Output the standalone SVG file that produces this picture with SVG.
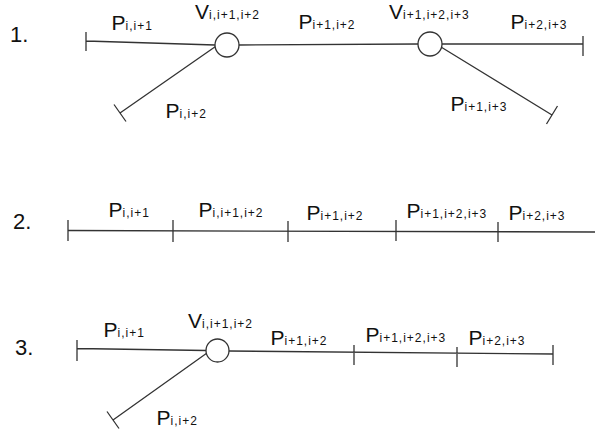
<svg xmlns="http://www.w3.org/2000/svg" width="595" height="438" viewBox="0 0 595 438">
<style>
.ln{stroke:#333;stroke-width:1.3;fill:none;stroke-linecap:butt}
.nd{stroke:#333;stroke-width:1.3;fill:#fff}
text{font-family:"Liberation Sans",Arial,sans-serif;fill:#111}
.lb{font-size:21px}
.num{font-size:22px}
.sb{font-size:12px;letter-spacing:1px}
</style>
<rect width="595" height="438" fill="#fff"/>
<g id="connectors">
  <!-- diagram 1 -->
  <path class="ln" d="M86,41 L215,45 M86,32 V51"/>
  <path class="ln" d="M215.5,46.5 L120,113 M114,104.5 L126,121.5"/>
  <path class="ln" d="M239,45 L418,44"/>
  <path class="ln" d="M442,44 L583,44 M583,36 V56"/>
  <path class="ln" d="M441,47 L552,115 M557.5,106 L546.5,124"/>
  <!-- diagram 2 -->
  <path class="ln" d="M68,230.5 L595,232"/>
  <path class="ln" d="M68,220 V241 M173,220 V242 M288,221 V242 M396,220 V241 M498,222 V242"/>
  <!-- diagram 3 -->
  <path class="ln" d="M77,348.5 L206,350.5 M77,340 V361"/>
  <path class="ln" d="M207,353 L113,420 M107,411.5 L119,428.5"/>
  <path class="ln" d="M229,351 L553,354 M354,345 V365 M457,347 V367 M553,345 V365"/>
</g>
<g id="diagram1">
  <text class="num" x="10" y="42">1.</text>
  <g id="d1-v1"><circle class="nd" cx="227" cy="45" r="12"/><text class="lb" x="195" y="18.5">V<tspan class="sb">i,i+1,i+2</tspan></text></g>
  <g id="d1-v2"><circle class="nd" cx="430" cy="44" r="12"/><text class="lb" x="389" y="18.5">V<tspan class="sb">i+1,i+2,i+3</tspan></text></g>
  <g id="d1-p1"><text class="lb" x="111.5" y="30">P<tspan class="sb">i,i+1</tspan></text></g>
  <g id="d1-p2"><text class="lb" x="298.5" y="29">P<tspan class="sb">i+1,i+2</tspan></text></g>
  <g id="d1-p3"><text class="lb" x="510.5" y="29">P<tspan class="sb">i+2,i+3</tspan></text></g>
  <g id="d1-p4"><text class="lb" x="165.5" y="118">P<tspan class="sb">i,i+2</tspan></text></g>
  <g id="d1-p5"><text class="lb" x="450.5" y="110.5">P<tspan class="sb">i+1,i+3</tspan></text></g>
</g>
<g id="diagram2">
  <text class="num" x="13" y="229">2.</text>
  <g id="d2-p1"><text class="lb" x="108.5" y="217">P<tspan class="sb">i,i+1</tspan></text></g>
  <g id="d2-p2"><text class="lb" x="198.5" y="217">P<tspan class="sb">i,i+1,i+2</tspan></text></g>
  <g id="d2-p3"><text class="lb" x="306.5" y="219.5">P<tspan class="sb">i+1,i+2</tspan></text></g>
  <g id="d2-p4"><text class="lb" x="406.5" y="218">P<tspan class="sb">i+1,i+2,i+3</tspan></text></g>
  <g id="d2-p5"><text class="lb" x="508.5" y="220">P<tspan class="sb">i+2,i+3</tspan></text></g>
</g>
<g id="diagram3">
  <text class="num" x="15" y="355">3.</text>
  <g id="d3-v1"><circle class="nd" cx="217.5" cy="350.5" r="11.5"/><text class="lb" x="188" y="328">V<tspan class="sb">i,i+1,i+2</tspan></text></g>
  <g id="d3-p1"><text class="lb" x="103.5" y="337">P<tspan class="sb">i,i+1</tspan></text></g>
  <g id="d3-p2"><text class="lb" x="270.5" y="345">P<tspan class="sb">i+1,i+2</tspan></text></g>
  <g id="d3-p3"><text class="lb" x="365.5" y="342">P<tspan class="sb">i+1,i+2,i+3</tspan></text></g>
  <g id="d3-p4"><text class="lb" x="468.5" y="345">P<tspan class="sb">i+2,i+3</tspan></text></g>
  <g id="d3-p5"><text class="lb" x="156.5" y="425">P<tspan class="sb">i,i+2</tspan></text></g>
</g>
</svg>
